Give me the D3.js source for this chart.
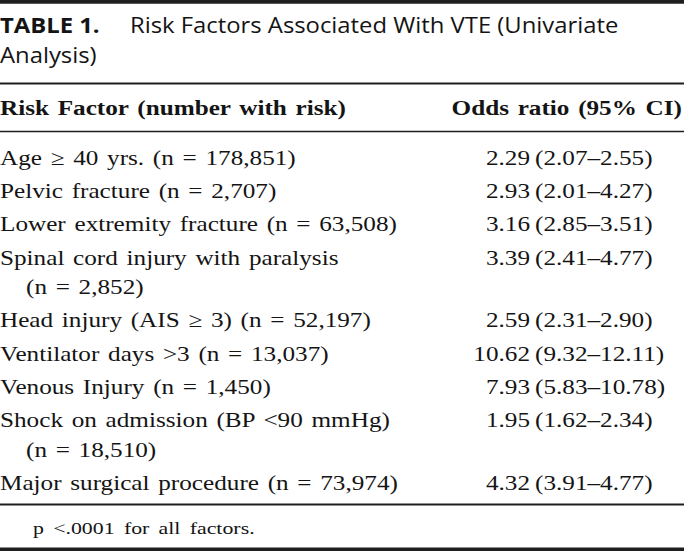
<!DOCTYPE html>
<html><head><meta charset="utf-8">
<script src="https://cdn.jsdelivr.net/npm/d3@7/dist/d3.min.js"></script>
<style>html,body{margin:0;padding:0;background:#fff;}svg{display:block;}</style>
</head><body>
<script>
const titleBold = "TABLE 1.";
const titleLines = ["Risk Factors Associated With VTE (Univariate", "Analysis)"];
const headers = ["Risk Factor (number with risk)", "Odds ratio (95% CI)"];
const factorLabels = [
  ["Age \u2265 40 yrs. (n = 178,851)"],
  ["Pelvic fracture (n = 2,707)"],
  ["Lower extremity fracture (n = 63,508)"],
  ["Spinal cord injury with paralysis", "(n = 2,852)"],
  ["Head injury (AIS \u2265 3) (n = 52,197)"],
  ["Ventilator days >3 (n = 13,037)"],
  ["Venous Injury (n = 1,450)"],
  ["Shock on admission (BP <90 mmHg)", "(n = 18,510)"],
  ["Major surgical procedure (n = 73,974)"]
];
const oddsRatios = [2.29, 2.93, 3.16, 3.39, 2.59, 10.62, 7.93, 1.95, 4.32];
const ciLow = [2.07, 2.01, 2.85, 2.41, 2.31, 9.32, 5.83, 1.62, 3.91];
const ciHigh = [2.55, 4.27, 3.51, 4.77, 2.90, 12.11, 10.78, 2.34, 4.77];
const footnote = "p <.0001 for all factors.";

const W = 684, H = 551;
const SX = 1.2;           // horizontal stretch of the original scan
const ink = "#141414";
const serif = "'Liberation Serif','Times New Roman',serif";
const sans = "'Open Sans','Noto Sans',sans-serif";
const fmt = d3.format(".2f");

const svg = d3.select("body").append("svg").attr("width", W).attr("height", H);

function txt(x, y, s, opt) {
  opt = opt || {};
  return svg.append("text")
    .attr("transform", `translate(${x},${y}) scale(${opt.sx || SX},1)`)
    .attr("text-anchor", opt.anchor || "start")
    .attr("font-family", opt.family || serif)
    .attr("font-size", opt.size || 21)
    .attr("font-weight", opt.weight || "normal")
    .attr("word-spacing", opt.ws || 0)
    .attr("fill", ink)
    .text(s);
}

// rules
const rules = [{y: 1.8, w: 3.8}, {y: 83.6, w: 2}, {y: 131.5, w: 1.6}, {y: 504.5, w: 2}, {y: 549.3, w: 3.6}];
svg.selectAll("line.rule").data(rules).join("line").attr("class", "rule")
  .attr("x1", 0).attr("x2", W).attr("y1", d => d.y).attr("y2", d => d.y)
  .attr("stroke", "#1e1e1e").attr("stroke-width", d => d.w);

// title
const TSX = 1.135;
txt(0, 33, titleBold, {family: sans, size: 21, weight: "bold", sx: TSX});
txt(130, 33, titleLines[0], {family: sans, size: 21, sx: TSX});
txt(0, 63, titleLines[1], {family: sans, size: 21, sx: TSX});

// header
txt(0, 115, headers[0], {weight: "bold", ws: 2});
txt(682, 115, headers[1], {weight: "bold", anchor: "end", ws: 2});

// rows
const rowY = d3.scaleLinear().domain([0, 1]).range([165, 198.2]);
const contGap = 29.6;
let extra = 0;
const rows = factorLabels.map((lab, i) => {
  const y = rowY(i) + extra;
  extra += (lab.length - 1) * contGap;
  return {lab, y, or: oddsRatios[i], lo: ciLow[i], hi: ciHigh[i]};
});
rows.forEach(r => {
  r.lab.forEach((s, j) => txt(j === 0 ? 0 : 26, r.y + j * contGap, s, {ws: 2}));
  txt(530, r.y, fmt(r.or), {anchor: "end"});
  txt(535, r.y, "(" + fmt(r.lo) + "\u2013" + fmt(r.hi) + ")");
});

// footnote
txt(33, 534, footnote, {size: 17.5, sx: 1.25, ws: 3});
</script>
</body></html>
